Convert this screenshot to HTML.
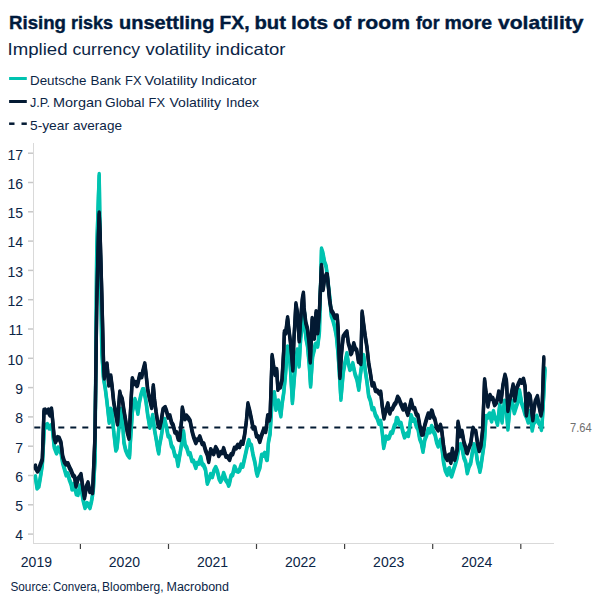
<!DOCTYPE html><html><head><meta charset="utf-8"><style>html,body{margin:0;padding:0;background:#fff;}svg{display:block;}</style></head><body>
<svg width="605" height="605" viewBox="0 0 605 605">
<rect width="605" height="605" fill="#fff"/>
<text x="9.00" y="29.4" font-family="'Liberation Sans', sans-serif" font-size="19" font-weight="bold" fill="#001a3d" textLength="57.00" lengthAdjust="spacingAndGlyphs" stroke="#001a3d" stroke-width="0.4">Rising</text>
<text x="71.00" y="29.4" font-family="'Liberation Sans', sans-serif" font-size="19" font-weight="bold" fill="#001a3d" textLength="42.00" lengthAdjust="spacingAndGlyphs" stroke="#001a3d" stroke-width="0.4">risks</text>
<text x="119.00" y="29.4" font-family="'Liberation Sans', sans-serif" font-size="19" font-weight="bold" fill="#001a3d" textLength="95.50" lengthAdjust="spacingAndGlyphs" stroke="#001a3d" stroke-width="0.4">unsettling</text>
<text x="219.50" y="29.4" font-family="'Liberation Sans', sans-serif" font-size="19" font-weight="bold" fill="#001a3d" textLength="30.00" lengthAdjust="spacingAndGlyphs" stroke="#001a3d" stroke-width="0.4">FX,</text>
<text x="254.50" y="29.4" font-family="'Liberation Sans', sans-serif" font-size="19" font-weight="bold" fill="#001a3d" textLength="31.50" lengthAdjust="spacingAndGlyphs" stroke="#001a3d" stroke-width="0.4">but</text>
<text x="291.00" y="29.4" font-family="'Liberation Sans', sans-serif" font-size="19" font-weight="bold" fill="#001a3d" textLength="37.00" lengthAdjust="spacingAndGlyphs" stroke="#001a3d" stroke-width="0.4">lots</text>
<text x="333.00" y="29.4" font-family="'Liberation Sans', sans-serif" font-size="19" font-weight="bold" fill="#001a3d" textLength="18.00" lengthAdjust="spacingAndGlyphs" stroke="#001a3d" stroke-width="0.4">of</text>
<text x="357.00" y="29.4" font-family="'Liberation Sans', sans-serif" font-size="19" font-weight="bold" fill="#001a3d" textLength="53.00" lengthAdjust="spacingAndGlyphs" stroke="#001a3d" stroke-width="0.4">room</text>
<text x="416.00" y="29.4" font-family="'Liberation Sans', sans-serif" font-size="19" font-weight="bold" fill="#001a3d" textLength="23.50" lengthAdjust="spacingAndGlyphs" stroke="#001a3d" stroke-width="0.4">for</text>
<text x="444.50" y="29.4" font-family="'Liberation Sans', sans-serif" font-size="19" font-weight="bold" fill="#001a3d" textLength="47.50" lengthAdjust="spacingAndGlyphs" stroke="#001a3d" stroke-width="0.4">more</text>
<text x="498.00" y="29.4" font-family="'Liberation Sans', sans-serif" font-size="19" font-weight="bold" fill="#001a3d" textLength="85.50" lengthAdjust="spacingAndGlyphs" stroke="#001a3d" stroke-width="0.4">volatility</text>
<text x="7.50" y="54.6" font-family="'Liberation Sans', sans-serif" font-size="16.5" font-weight="normal" fill="#0b2546" textLength="60.00" lengthAdjust="spacingAndGlyphs">Implied</text>
<text x="72.50" y="54.6" font-family="'Liberation Sans', sans-serif" font-size="16.5" font-weight="normal" fill="#0b2546" textLength="67.50" lengthAdjust="spacingAndGlyphs">currency</text>
<text x="145.50" y="54.6" font-family="'Liberation Sans', sans-serif" font-size="16.5" font-weight="normal" fill="#0b2546" textLength="65.50" lengthAdjust="spacingAndGlyphs">volatility</text>
<text x="215.50" y="54.6" font-family="'Liberation Sans', sans-serif" font-size="16.5" font-weight="normal" fill="#0b2546" textLength="70.00" lengthAdjust="spacingAndGlyphs">indicator</text>
<text x="30.00" y="84.8" font-family="'Liberation Sans', sans-serif" font-size="13.5" font-weight="normal" fill="#0b2546" textLength="56.50" lengthAdjust="spacingAndGlyphs">Deutsche</text>
<text x="90.50" y="84.8" font-family="'Liberation Sans', sans-serif" font-size="13.5" font-weight="normal" fill="#0b2546" textLength="30.50" lengthAdjust="spacingAndGlyphs">Bank</text>
<text x="125.00" y="84.8" font-family="'Liberation Sans', sans-serif" font-size="13.5" font-weight="normal" fill="#0b2546" textLength="16.50" lengthAdjust="spacingAndGlyphs">FX</text>
<text x="144.50" y="84.8" font-family="'Liberation Sans', sans-serif" font-size="13.5" font-weight="normal" fill="#0b2546" textLength="53.00" lengthAdjust="spacingAndGlyphs">Volatility</text>
<text x="201.00" y="84.8" font-family="'Liberation Sans', sans-serif" font-size="13.5" font-weight="normal" fill="#0b2546" textLength="55.50" lengthAdjust="spacingAndGlyphs">Indicator</text>
<text x="30.00" y="107.1" font-family="'Liberation Sans', sans-serif" font-size="13.5" font-weight="normal" fill="#0b2546" textLength="20.00" lengthAdjust="spacingAndGlyphs">J.P.</text>
<text x="53.00" y="107.1" font-family="'Liberation Sans', sans-serif" font-size="13.5" font-weight="normal" fill="#0b2546" textLength="49.00" lengthAdjust="spacingAndGlyphs">Morgan</text>
<text x="105.00" y="107.1" font-family="'Liberation Sans', sans-serif" font-size="13.5" font-weight="normal" fill="#0b2546" textLength="39.50" lengthAdjust="spacingAndGlyphs">Global</text>
<text x="148.50" y="107.1" font-family="'Liberation Sans', sans-serif" font-size="13.5" font-weight="normal" fill="#0b2546" textLength="16.50" lengthAdjust="spacingAndGlyphs">FX</text>
<text x="169.50" y="107.1" font-family="'Liberation Sans', sans-serif" font-size="13.5" font-weight="normal" fill="#0b2546" textLength="51.50" lengthAdjust="spacingAndGlyphs">Volatility</text>
<text x="226.00" y="107.1" font-family="'Liberation Sans', sans-serif" font-size="13.5" font-weight="normal" fill="#0b2546" textLength="33.00" lengthAdjust="spacingAndGlyphs">Index</text>
<text x="30.00" y="129.8" font-family="'Liberation Sans', sans-serif" font-size="13.5" font-weight="normal" fill="#0b2546" textLength="39.00" lengthAdjust="spacingAndGlyphs">5-year</text>
<text x="73.00" y="129.8" font-family="'Liberation Sans', sans-serif" font-size="13.5" font-weight="normal" fill="#0b2546" textLength="49.00" lengthAdjust="spacingAndGlyphs">average</text>
<text x="10.50" y="590.8" font-family="'Liberation Sans', sans-serif" font-size="12" font-weight="normal" fill="#0b2546" textLength="40.50" lengthAdjust="spacingAndGlyphs">Source:</text>
<text x="53.00" y="590.8" font-family="'Liberation Sans', sans-serif" font-size="12" font-weight="normal" fill="#0b2546" textLength="47.00" lengthAdjust="spacingAndGlyphs">Convera,</text>
<text x="102.00" y="590.8" font-family="'Liberation Sans', sans-serif" font-size="12" font-weight="normal" fill="#0b2546" textLength="61.50" lengthAdjust="spacingAndGlyphs">Bloomberg,</text>
<text x="166.50" y="590.8" font-family="'Liberation Sans', sans-serif" font-size="12" font-weight="normal" fill="#0b2546" textLength="62.50" lengthAdjust="spacingAndGlyphs">Macrobond</text>
<line x1="9.1" y1="78.5" x2="26.8" y2="78.5" stroke="#00c3b0" stroke-width="3"/>
<line x1="9.1" y1="101.5" x2="26.8" y2="101.5" stroke="#031a33" stroke-width="3"/>
<line x1="9.1" y1="123.7" x2="14.5" y2="123.7" stroke="#031a33" stroke-width="2.5"/>
<line x1="21.5" y1="123.7" x2="26.8" y2="123.7" stroke="#031a33" stroke-width="2.5"/>
<line x1="33.5" y1="143" x2="33.5" y2="543.5" stroke="#d9d9d9" stroke-width="1"/>
<line x1="33" y1="543.5" x2="554" y2="543.5" stroke="#d9d9d9" stroke-width="1"/>
<line x1="28" y1="153.2" x2="33" y2="153.2" stroke="#c8c8c8" stroke-width="1.5"/>
<text x="23" y="159.5" font-family="'Liberation Sans', sans-serif" font-size="14" font-weight="normal" fill="#0b2546" text-anchor="end">17</text>
<line x1="28" y1="182.5" x2="33" y2="182.5" stroke="#c8c8c8" stroke-width="1.5"/>
<text x="23" y="188.8" font-family="'Liberation Sans', sans-serif" font-size="14" font-weight="normal" fill="#0b2546" text-anchor="end">16</text>
<line x1="28" y1="211.8" x2="33" y2="211.8" stroke="#c8c8c8" stroke-width="1.5"/>
<text x="23" y="218.1" font-family="'Liberation Sans', sans-serif" font-size="14" font-weight="normal" fill="#0b2546" text-anchor="end">15</text>
<line x1="28" y1="241.1" x2="33" y2="241.1" stroke="#c8c8c8" stroke-width="1.5"/>
<text x="23" y="247.4" font-family="'Liberation Sans', sans-serif" font-size="14" font-weight="normal" fill="#0b2546" text-anchor="end">14</text>
<line x1="28" y1="270.4" x2="33" y2="270.4" stroke="#c8c8c8" stroke-width="1.5"/>
<text x="23" y="276.7" font-family="'Liberation Sans', sans-serif" font-size="14" font-weight="normal" fill="#0b2546" text-anchor="end">13</text>
<line x1="28" y1="299.7" x2="33" y2="299.7" stroke="#c8c8c8" stroke-width="1.5"/>
<text x="23" y="306.0" font-family="'Liberation Sans', sans-serif" font-size="14" font-weight="normal" fill="#0b2546" text-anchor="end">12</text>
<line x1="28" y1="329.0" x2="33" y2="329.0" stroke="#c8c8c8" stroke-width="1.5"/>
<text x="23" y="335.3" font-family="'Liberation Sans', sans-serif" font-size="14" font-weight="normal" fill="#0b2546" text-anchor="end">11</text>
<line x1="28" y1="358.3" x2="33" y2="358.3" stroke="#c8c8c8" stroke-width="1.5"/>
<text x="23" y="364.6" font-family="'Liberation Sans', sans-serif" font-size="14" font-weight="normal" fill="#0b2546" text-anchor="end">10</text>
<line x1="28" y1="387.6" x2="33" y2="387.6" stroke="#c8c8c8" stroke-width="1.5"/>
<text x="23" y="393.9" font-family="'Liberation Sans', sans-serif" font-size="14" font-weight="normal" fill="#0b2546" text-anchor="end">9</text>
<line x1="28" y1="416.9" x2="33" y2="416.9" stroke="#c8c8c8" stroke-width="1.5"/>
<text x="23" y="423.2" font-family="'Liberation Sans', sans-serif" font-size="14" font-weight="normal" fill="#0b2546" text-anchor="end">8</text>
<line x1="28" y1="446.2" x2="33" y2="446.2" stroke="#c8c8c8" stroke-width="1.5"/>
<text x="23" y="452.5" font-family="'Liberation Sans', sans-serif" font-size="14" font-weight="normal" fill="#0b2546" text-anchor="end">7</text>
<line x1="28" y1="475.5" x2="33" y2="475.5" stroke="#c8c8c8" stroke-width="1.5"/>
<text x="23" y="481.8" font-family="'Liberation Sans', sans-serif" font-size="14" font-weight="normal" fill="#0b2546" text-anchor="end">6</text>
<line x1="28" y1="504.8" x2="33" y2="504.8" stroke="#c8c8c8" stroke-width="1.5"/>
<text x="23" y="511.1" font-family="'Liberation Sans', sans-serif" font-size="14" font-weight="normal" fill="#0b2546" text-anchor="end">5</text>
<line x1="28" y1="534.1" x2="33" y2="534.1" stroke="#c8c8c8" stroke-width="1.5"/>
<text x="23" y="540.4" font-family="'Liberation Sans', sans-serif" font-size="14" font-weight="normal" fill="#0b2546" text-anchor="end">4</text>
<line x1="80.4" y1="544" x2="80.4" y2="549" stroke="#404040" stroke-width="1.2"/>
<line x1="168.5" y1="544" x2="168.5" y2="549" stroke="#404040" stroke-width="1.2"/>
<line x1="256.5" y1="544" x2="256.5" y2="549" stroke="#404040" stroke-width="1.2"/>
<line x1="344.6" y1="544" x2="344.6" y2="549" stroke="#404040" stroke-width="1.2"/>
<line x1="432.7" y1="544" x2="432.7" y2="549" stroke="#404040" stroke-width="1.2"/>
<line x1="520.8" y1="544" x2="520.8" y2="549" stroke="#404040" stroke-width="1.2"/>
<text x="36.4" y="566.8" font-family="'Liberation Sans', sans-serif" font-size="14" font-weight="normal" fill="#0b2546" text-anchor="middle">2019</text>
<text x="124.4" y="566.8" font-family="'Liberation Sans', sans-serif" font-size="14" font-weight="normal" fill="#0b2546" text-anchor="middle">2020</text>
<text x="212.5" y="566.8" font-family="'Liberation Sans', sans-serif" font-size="14" font-weight="normal" fill="#0b2546" text-anchor="middle">2021</text>
<text x="300.6" y="566.8" font-family="'Liberation Sans', sans-serif" font-size="14" font-weight="normal" fill="#0b2546" text-anchor="middle">2022</text>
<text x="388.7" y="566.8" font-family="'Liberation Sans', sans-serif" font-size="14" font-weight="normal" fill="#0b2546" text-anchor="middle">2023</text>
<text x="476.8" y="566.8" font-family="'Liberation Sans', sans-serif" font-size="14" font-weight="normal" fill="#0b2546" text-anchor="middle">2024</text>
<text x="570" y="432" font-family="'Liberation Sans', sans-serif" font-size="12" font-weight="normal" fill="#707070" text-anchor="start" textLength="21.6" lengthAdjust="spacingAndGlyphs">7.64</text>
<line x1="34.3" y1="427.4" x2="544.5" y2="427.4" stroke="#031a33" stroke-width="2" stroke-dasharray="6 6"/>
<path transform="translate(0,-1.0)" d="M35.5,476.7 L35.5,477.5 L37.0,488.0 L38.9,486.1 L40.6,476.0 L42.3,465.3 L44.5,425.0 L45.7,427.0 L47.4,424.6 L49.1,428.1 L50.0,428.0 L50.8,426.2 L52.0,425.0 L54.2,446.8 L56.5,453.0 L58.0,448.0 L59.3,450.5 L61.0,452.4 L62.7,463.1 L64.4,468.7 L66.1,474.9 L67.8,473.7 L69.5,480.0 L71.2,484.4 L72.0,489.0 L72.9,488.9 L74.0,484.5 L74.6,485.8 L76.3,493.9 L78.0,494.4 L80.0,486.0 L81.4,489.8 L83.1,500.0 L85.0,507.6 L87.0,503.5 L88.2,504.6 L90.0,507.6 L91.6,500.8 L93.3,490.4 L95.0,460.7 L96.7,251.7 L98.4,197.3 L99.2,174.5 L100.1,237.8 L101.8,352.0 L103.5,377.9 L105.2,388.0 L106.9,401.2 L109.2,422.3 L110.6,409.1 L112.0,411.4 L113.7,431.4 L115.8,450.1 L117.1,447.6 L118.8,428.7 L121.1,409.1 L122.2,416.0 L123.9,442.3 L125.6,449.9 L127.3,453.9 L129.5,457.0 L130.7,436.8 L132.4,411.3 L134.1,403.6 L134.9,399.5 L135.8,402.5 L137.9,413.4 L139.2,403.2 L140.9,395.1 L142.6,389.7 L143.8,389.6 L146.0,401.5 L147.7,414.8 L149.8,427.3 L151.1,423.3 L152.7,415.4 L154.5,429.8 L156.2,439.2 L157.9,449.4 L158.7,453.0 L159.6,444.9 L161.3,436.2 L163.0,424.5 L164.6,419.4 L166.4,426.9 L168.1,435.9 L169.8,437.1 L171.5,445.8 L173.2,448.4 L174.9,455.5 L176.6,456.6 L178.0,465.5 L180.0,453.7 L181.7,443.5 L183.5,431.7 L185.1,445.3 L186.8,447.9 L188.5,453.7 L190.2,453.8 L191.9,460.6 L193.6,461.2 L195.8,467.5 L197.0,463.5 L198.7,463.4 L200.8,457.5 L202.1,464.1 L203.8,465.6 L205.5,469.7 L207.3,483.3 L208.9,479.4 L210.6,474.5 L212.3,476.7 L214.0,470.7 L215.7,467.5 L217.4,471.4 L219.1,478.6 L220.6,481.3 L222.5,477.8 L223.6,473.4 L225.9,480.1 L227.6,482.4 L228.6,485.3 L229.3,483.8 L231.0,476.0 L232.7,474.6 L234.4,467.0 L235.0,467.3 L236.1,470.5 L238.0,471.3 L239.5,470.2 L241.2,465.1 L242.9,466.2 L244.6,458.4 L246.3,450.6 L248.0,443.1 L248.9,440.5 L249.7,444.1 L251.4,445.6 L253.1,455.1 L254.8,461.8 L256.5,472.2 L257.4,475.2 L258.2,471.9 L259.9,467.5 L261.6,455.3 L263.3,455.2 L264.7,453.4 L266.7,459.6 L267.3,459.4 L268.4,442.5 L270.1,433.6 L271.8,405.5 L273.5,395.5 L274.3,392.7 L275.2,400.9 L275.9,409.3 L276.9,407.2 L278.4,401.0 L280.3,413.1 L280.9,415.9 L282.0,404.6 L283.7,393.0 L285.4,375.6 L287.5,347.0 L288.8,347.9 L290.5,369.7 L292.4,402.6 L293.9,383.6 L295.6,362.3 L297.3,350.0 L299.1,366.0 L300.7,337.5 L302.4,327.1 L304.5,313.0 L305.8,337.5 L307.5,345.9 L309.2,364.2 L310.6,386.1 L312.6,356.3 L314.3,349.6 L315.1,345.0 L316.0,344.0 L317.7,346.1 L319.4,332.2 L321.5,249.0 L322.8,252.7 L324.5,262.0 L326.2,266.7 L327.9,281.3 L329.6,295.9 L331.3,315.5 L333.0,320.5 L334.7,327.0 L336.4,336.2 L338.1,354.0 L339.8,380.5 L340.9,399.3 L343.2,372.8 L344.9,363.4 L346.9,353.7 L348.3,362.7 L349.8,369.5 L351.7,367.6 L352.8,363.6 L355.1,374.3 L356.8,378.8 L358.8,389.4 L360.2,375.9 L361.9,363.7 L363.7,355.6 L365.3,371.1 L367.0,382.1 L368.7,396.0 L370.4,400.5 L372.1,408.8 L373.8,408.8 L375.5,415.2 L377.2,418.0 L378.9,423.3 L380.6,421.3 L382.3,433.1 L383.7,447.5 L386.0,436.9 L387.9,438.2 L389.1,437.7 L390.8,432.9 L392.5,432.3 L394.2,426.4 L395.9,423.2 L396.5,418.4 L397.6,418.7 L399.3,423.9 L401.0,423.4 L402.7,431.0 L404.5,436.9 L406.5,434.2 L407.8,433.5 L408.4,435.6 L409.5,428.2 L411.1,415.7 L412.9,420.3 L414.6,420.0 L416.3,426.0 L418.0,428.8 L419.7,438.7 L421.4,442.9 L423.0,451.4 L424.8,439.7 L426.5,435.4 L428.2,429.6 L429.9,431.9 L431.6,426.4 L432.2,427.6 L433.3,431.3 L435.0,434.4 L436.7,442.3 L438.2,446.1 L440.5,440.2 L441.8,446.3 L443.5,461.8 L445.2,470.0 L447.2,474.4 L448.6,469.2 L449.4,468.5 L450.3,473.2 L451.6,475.9 L453.7,469.2 L455.4,464.0 L457.1,457.9 L458.8,447.1 L460.6,444.6 L462.2,448.7 L463.9,457.7 L465.6,461.8 L467.3,472.9 L469.0,466.6 L470.7,463.0 L472.4,452.3 L474.0,444.6 L475.8,450.0 L477.5,461.7 L479.2,467.5 L479.9,471.4 L480.9,466.6 L482.6,454.4 L484.3,443.0 L486.0,416.4 L487.7,417.2 L489.4,413.9 L490.0,414.0 L491.1,419.5 L491.7,421.0 L492.8,413.6 L493.5,411.6 L494.5,416.4 L496.2,419.8 L497.5,424.3 L499.8,404.7 L501.3,417.9 L502.1,422.0 L503.0,413.2 L504.5,401.2 L506.4,410.3 L507.9,429.0 L509.8,408.6 L512.0,401.2 L513.2,406.6 L514.3,412.8 L516.6,405.5 L518.3,400.7 L519.5,390.8 L521.7,403.3 L523.4,408.1 L525.1,414.3 L526.8,417.4 L528.2,422.0 L529.9,411.6 L532.2,430.1 L533.6,423.0 L535.3,421.2 L536.8,416.2 L538.7,422.8 L540.4,424.9 L541.4,429.5 L542.1,424.4 L543.8,393.7 L545.0,369.0" fill="none" stroke="#00c3b0" stroke-width="3.4" stroke-linejoin="round" stroke-linecap="round"/>
<path transform="translate(0,1.0)" d="M35.5,476.7 L35.5,477.5 L37.0,488.0 L38.9,486.1 L40.6,476.0 L42.3,465.3 L44.5,425.0 L45.7,427.0 L47.4,424.6 L49.1,428.1 L50.0,428.0 L50.8,426.2 L52.0,425.0 L54.2,446.8 L56.5,453.0 L58.0,448.0 L59.3,450.5 L61.0,452.4 L62.7,463.1 L64.4,468.7 L66.1,474.9 L67.8,473.7 L69.5,480.0 L71.2,484.4 L72.0,489.0 L72.9,488.9 L74.0,484.5 L74.6,485.8 L76.3,493.9 L78.0,494.4 L80.0,486.0 L81.4,489.8 L83.1,500.0 L85.0,507.6 L87.0,503.5 L88.2,504.6 L90.0,507.6 L91.6,500.8 L93.3,490.4 L95.0,460.7 L96.7,251.7 L98.4,197.3 L99.2,174.5 L100.1,237.8 L101.8,352.0 L103.5,377.9 L105.2,388.0 L106.9,401.2 L109.2,422.3 L110.6,409.1 L112.0,411.4 L113.7,431.4 L115.8,450.1 L117.1,447.6 L118.8,428.7 L121.1,409.1 L122.2,416.0 L123.9,442.3 L125.6,449.9 L127.3,453.9 L129.5,457.0 L130.7,436.8 L132.4,411.3 L134.1,403.6 L134.9,399.5 L135.8,402.5 L137.9,413.4 L139.2,403.2 L140.9,395.1 L142.6,389.7 L143.8,389.6 L146.0,401.5 L147.7,414.8 L149.8,427.3 L151.1,423.3 L152.7,415.4 L154.5,429.8 L156.2,439.2 L157.9,449.4 L158.7,453.0 L159.6,444.9 L161.3,436.2 L163.0,424.5 L164.6,419.4 L166.4,426.9 L168.1,435.9 L169.8,437.1 L171.5,445.8 L173.2,448.4 L174.9,455.5 L176.6,456.6 L178.0,465.5 L180.0,453.7 L181.7,443.5 L183.5,431.7 L185.1,445.3 L186.8,447.9 L188.5,453.7 L190.2,453.8 L191.9,460.6 L193.6,461.2 L195.8,467.5 L197.0,463.5 L198.7,463.4 L200.8,457.5 L202.1,464.1 L203.8,465.6 L205.5,469.7 L207.3,483.3 L208.9,479.4 L210.6,474.5 L212.3,476.7 L214.0,470.7 L215.7,467.5 L217.4,471.4 L219.1,478.6 L220.6,481.3 L222.5,477.8 L223.6,473.4 L225.9,480.1 L227.6,482.4 L228.6,485.3 L229.3,483.8 L231.0,476.0 L232.7,474.6 L234.4,467.0 L235.0,467.3 L236.1,470.5 L238.0,471.3 L239.5,470.2 L241.2,465.1 L242.9,466.2 L244.6,458.4 L246.3,450.6 L248.0,443.1 L248.9,440.5 L249.7,444.1 L251.4,445.6 L253.1,455.1 L254.8,461.8 L256.5,472.2 L257.4,475.2 L258.2,471.9 L259.9,467.5 L261.6,455.3 L263.3,455.2 L264.7,453.4 L266.7,459.6 L267.3,459.4 L268.4,442.5 L270.1,433.6 L271.8,405.5 L273.5,395.5 L274.3,392.7 L275.2,400.9 L275.9,409.3 L276.9,407.2 L278.4,401.0 L280.3,413.1 L280.9,415.9 L282.0,404.6 L283.7,393.0 L285.4,375.6 L287.5,347.0 L288.8,347.9 L290.5,369.7 L292.4,402.6 L293.9,383.6 L295.6,362.3 L297.3,350.0 L299.1,366.0 L300.7,337.5 L302.4,327.1 L304.5,313.0 L305.8,337.5 L307.5,345.9 L309.2,364.2 L310.6,386.1 L312.6,356.3 L314.3,349.6 L315.1,345.0 L316.0,344.0 L317.7,346.1 L319.4,332.2 L321.5,249.0 L322.8,252.7 L324.5,262.0 L326.2,266.7 L327.9,281.3 L329.6,295.9 L331.3,315.5 L333.0,320.5 L334.7,327.0 L336.4,336.2 L338.1,354.0 L339.8,380.5 L340.9,399.3 L343.2,372.8 L344.9,363.4 L346.9,353.7 L348.3,362.7 L349.8,369.5 L351.7,367.6 L352.8,363.6 L355.1,374.3 L356.8,378.8 L358.8,389.4 L360.2,375.9 L361.9,363.7 L363.7,355.6 L365.3,371.1 L367.0,382.1 L368.7,396.0 L370.4,400.5 L372.1,408.8 L373.8,408.8 L375.5,415.2 L377.2,418.0 L378.9,423.3 L380.6,421.3 L382.3,433.1 L383.7,447.5 L386.0,436.9 L387.9,438.2 L389.1,437.7 L390.8,432.9 L392.5,432.3 L394.2,426.4 L395.9,423.2 L396.5,418.4 L397.6,418.7 L399.3,423.9 L401.0,423.4 L402.7,431.0 L404.5,436.9 L406.5,434.2 L407.8,433.5 L408.4,435.6 L409.5,428.2 L411.1,415.7 L412.9,420.3 L414.6,420.0 L416.3,426.0 L418.0,428.8 L419.7,438.7 L421.4,442.9 L423.0,451.4 L424.8,439.7 L426.5,435.4 L428.2,429.6 L429.9,431.9 L431.6,426.4 L432.2,427.6 L433.3,431.3 L435.0,434.4 L436.7,442.3 L438.2,446.1 L440.5,440.2 L441.8,446.3 L443.5,461.8 L445.2,470.0 L447.2,474.4 L448.6,469.2 L449.4,468.5 L450.3,473.2 L451.6,475.9 L453.7,469.2 L455.4,464.0 L457.1,457.9 L458.8,447.1 L460.6,444.6 L462.2,448.7 L463.9,457.7 L465.6,461.8 L467.3,472.9 L469.0,466.6 L470.7,463.0 L472.4,452.3 L474.0,444.6 L475.8,450.0 L477.5,461.7 L479.2,467.5 L479.9,471.4 L480.9,466.6 L482.6,454.4 L484.3,443.0 L486.0,416.4 L487.7,417.2 L489.4,413.9 L490.0,414.0 L491.1,419.5 L491.7,421.0 L492.8,413.6 L493.5,411.6 L494.5,416.4 L496.2,419.8 L497.5,424.3 L499.8,404.7 L501.3,417.9 L502.1,422.0 L503.0,413.2 L504.5,401.2 L506.4,410.3 L507.9,429.0 L509.8,408.6 L512.0,401.2 L513.2,406.6 L514.3,412.8 L516.6,405.5 L518.3,400.7 L519.5,390.8 L521.7,403.3 L523.4,408.1 L525.1,414.3 L526.8,417.4 L528.2,422.0 L529.9,411.6 L532.2,430.1 L533.6,423.0 L535.3,421.2 L536.8,416.2 L538.7,422.8 L540.4,424.9 L541.4,429.5 L542.1,424.4 L543.8,393.7 L545.0,369.0" fill="none" stroke="#00c3b0" stroke-width="3.4" stroke-linejoin="round" stroke-linecap="round"/>
<path transform="translate(0,-1.0)" d="M35.5,466.0 L35.5,467.9 L37.5,471.0 L38.9,468.9 L40.6,464.1 L42.3,459.7 L44.0,410.4 L45.0,410.0 L45.7,412.1 L47.0,411.6 L48.5,410.0 L49.1,413.4 L50.0,415.0 L50.8,410.4 L51.5,409.0 L52.5,418.7 L54.2,437.7 L55.5,441.7 L57.6,437.5 L59.0,438.0 L61.0,442.7 L62.7,456.5 L64.4,461.8 L66.0,464.0 L68.0,463.8 L69.5,467.6 L71.2,470.8 L72.9,475.3 L74.6,476.9 L76.0,486.0 L78.0,478.8 L79.7,476.8 L81.0,474.5 L83.1,489.4 L84.5,497.7 L86.5,486.3 L88.0,482.8 L89.9,491.6 L91.6,489.7 L92.5,492.7 L93.3,475.8 L95.0,435.6 L96.7,307.3 L98.4,236.0 L99.2,213.0 L100.1,233.3 L101.8,293.8 L103.5,361.8 L104.3,378.0 L105.2,371.6 L107.0,364.0 L108.8,385.0 L110.8,376.0 L112.0,385.5 L113.7,402.0 L115.4,411.6 L117.5,424.0 L118.8,404.6 L119.8,392.0 L120.5,395.6 L122.2,399.0 L123.9,410.2 L125.6,420.4 L127.3,432.0 L129.0,438.2 L130.7,407.2 L132.3,378.7 L134.1,383.7 L135.8,382.5 L136.9,385.6 L137.5,385.0 L139.8,374.7 L140.9,376.7 L141.8,376.7 L142.6,372.2 L144.8,363.8 L146.0,373.7 L147.7,389.5 L149.4,397.9 L151.7,407.5 L153.3,385.6 L154.5,399.5 L156.2,412.8 L157.9,423.9 L159.7,427.3 L161.3,420.3 L163.0,409.5 L165.2,407.5 L166.4,410.6 L168.1,417.2 L169.8,415.7 L171.5,422.5 L173.2,425.4 L174.9,432.1 L176.6,432.6 L178.3,439.2 L179.5,439.5 L181.7,419.7 L182.3,408.0 L183.4,412.8 L184.3,417.9 L185.1,418.6 L186.3,415.9 L188.5,418.4 L190.2,421.2 L191.9,430.5 L193.6,436.9 L195.8,442.7 L197.0,440.0 L198.7,439.2 L199.8,436.7 L202.1,443.5 L203.8,444.0 L205.5,450.3 L207.2,454.2 L208.7,461.5 L210.7,449.6 L212.3,452.4 L213.7,453.6 L215.7,447.6 L217.4,450.5 L218.7,455.6 L220.8,452.5 L222.5,452.5 L223.6,448.6 L225.9,456.3 L227.6,456.6 L229.6,459.5 L231.0,454.7 L232.7,453.7 L234.4,448.2 L236.1,448.1 L237.8,445.2 L239.5,446.6 L241.2,442.3 L242.9,443.3 L244.6,434.9 L246.3,421.9 L247.9,403.8 L249.7,410.9 L251.4,419.1 L253.1,428.1 L254.8,427.9 L256.5,435.9 L258.2,436.7 L259.8,441.5 L261.6,435.3 L263.7,429.6 L265.0,429.9 L265.7,431.6 L266.7,424.4 L267.7,415.7 L268.4,416.4 L269.3,420.0 L270.1,416.0 L272.1,355.5 L273.5,365.3 L275.1,374.5 L276.7,369.6 L277.9,389.4 L278.6,387.5 L280.3,387.2 L282.0,379.8 L283.7,350.7 L284.4,331.6 L285.7,333.0 L287.6,317.7 L288.8,329.0 L290.5,342.5 L292.2,361.7 L292.8,370.0 L293.9,339.9 L295.9,303.8 L297.3,312.1 L299.2,340.8 L300.7,318.3 L302.4,298.5 L303.4,293.2 L304.1,308.4 L305.8,322.8 L307.5,329.0 L309.2,343.4 L310.3,362.0 L312.2,318.4 L314.4,338.2 L316.1,311.7 L317.7,332.9 L319.4,311.7 L321.5,265.5 L323.1,289.5 L324.5,279.2 L326.2,274.8 L327.3,274.7 L329.6,300.0 L331.3,310.5 L333.0,313.1 L334.7,317.2 L335.5,317.6 L336.4,315.9 L337.2,316.0 L338.1,328.4 L339.9,377.5 L341.5,353.4 L343.2,336.7 L344.9,334.2 L346.9,331.8 L348.3,342.9 L350.0,348.6 L350.8,353.7 L351.7,352.6 L353.8,343.7 L355.1,348.4 L356.8,350.4 L358.5,361.5 L360.2,362.3 L360.8,363.6 L362.1,312.0 L363.6,324.0 L365.3,336.7 L367.0,347.4 L368.7,363.3 L370.4,373.3 L372.1,385.1 L373.8,383.7 L375.5,390.5 L377.2,390.8 L379.2,393.3 L380.7,392.0 L382.3,406.6 L384.0,418.0 L385.7,411.2 L387.9,403.8 L389.1,411.2 L389.9,413.1 L390.8,409.8 L392.5,408.6 L394.2,404.9 L395.9,402.7 L397.6,397.2 L399.3,399.8 L401.0,404.3 L403.1,409.1 L404.4,405.5 L405.1,405.1 L406.1,409.7 L407.8,414.4 L409.5,407.9 L411.1,400.5 L412.9,407.9 L414.6,408.3 L416.3,414.0 L418.0,415.7 L419.7,425.4 L421.7,434.2 L423.1,434.1 L424.8,425.2 L426.5,419.3 L428.2,413.9 L429.9,417.2 L431.6,411.0 L432.2,411.7 L433.3,416.2 L435.0,419.6 L436.7,427.8 L438.2,430.0 L440.5,425.3 L441.8,431.0 L443.5,445.3 L445.2,455.7 L447.2,459.5 L448.6,455.7 L449.4,455.1 L450.3,460.9 L450.9,462.5 L452.4,449.1 L453.7,457.2 L454.6,459.5 L455.4,456.7 L457.1,449.9 L458.0,422.3 L458.8,426.5 L459.8,435.7 L460.5,435.3 L462.0,431.3 L463.9,442.4 L465.6,447.5 L466.5,452.1 L467.3,452.8 L469.0,447.7 L470.7,443.4 L472.4,431.2 L473.2,428.3 L474.1,430.7 L475.8,431.4 L477.5,443.1 L479.2,450.6 L480.9,445.7 L482.6,430.5 L484.6,379.7 L486.0,392.6 L487.9,406.1 L489.4,398.0 L490.0,395.4 L491.1,398.0 L492.8,398.4 L494.6,404.7 L496.2,402.7 L497.9,397.5 L498.7,392.0 L499.6,394.0 L501.0,401.2 L503.0,384.8 L505.0,375.2 L506.4,380.6 L507.9,410.5 L509.8,399.3 L511.5,393.4 L513.1,385.0 L514.9,400.0 L516.6,388.5 L518.3,384.3 L520.0,380.6 L521.7,382.3 L523.5,379.2 L525.1,386.3 L526.4,415.0 L528.7,394.3 L530.2,396.3 L531.9,412.3 L532.8,419.7 L533.6,412.2 L535.3,401.1 L537.4,396.6 L538.7,404.3 L540.9,415.0 L542.1,409.0 L543.8,357.8 L543.8,359.0" fill="none" stroke="#031a33" stroke-width="3.4" stroke-linejoin="round" stroke-linecap="round"/>
<path transform="translate(0,1.0)" d="M35.5,466.0 L35.5,467.9 L37.5,471.0 L38.9,468.9 L40.6,464.1 L42.3,459.7 L44.0,410.4 L45.0,410.0 L45.7,412.1 L47.0,411.6 L48.5,410.0 L49.1,413.4 L50.0,415.0 L50.8,410.4 L51.5,409.0 L52.5,418.7 L54.2,437.7 L55.5,441.7 L57.6,437.5 L59.0,438.0 L61.0,442.7 L62.7,456.5 L64.4,461.8 L66.0,464.0 L68.0,463.8 L69.5,467.6 L71.2,470.8 L72.9,475.3 L74.6,476.9 L76.0,486.0 L78.0,478.8 L79.7,476.8 L81.0,474.5 L83.1,489.4 L84.5,497.7 L86.5,486.3 L88.0,482.8 L89.9,491.6 L91.6,489.7 L92.5,492.7 L93.3,475.8 L95.0,435.6 L96.7,307.3 L98.4,236.0 L99.2,213.0 L100.1,233.3 L101.8,293.8 L103.5,361.8 L104.3,378.0 L105.2,371.6 L107.0,364.0 L108.8,385.0 L110.8,376.0 L112.0,385.5 L113.7,402.0 L115.4,411.6 L117.5,424.0 L118.8,404.6 L119.8,392.0 L120.5,395.6 L122.2,399.0 L123.9,410.2 L125.6,420.4 L127.3,432.0 L129.0,438.2 L130.7,407.2 L132.3,378.7 L134.1,383.7 L135.8,382.5 L136.9,385.6 L137.5,385.0 L139.8,374.7 L140.9,376.7 L141.8,376.7 L142.6,372.2 L144.8,363.8 L146.0,373.7 L147.7,389.5 L149.4,397.9 L151.7,407.5 L153.3,385.6 L154.5,399.5 L156.2,412.8 L157.9,423.9 L159.7,427.3 L161.3,420.3 L163.0,409.5 L165.2,407.5 L166.4,410.6 L168.1,417.2 L169.8,415.7 L171.5,422.5 L173.2,425.4 L174.9,432.1 L176.6,432.6 L178.3,439.2 L179.5,439.5 L181.7,419.7 L182.3,408.0 L183.4,412.8 L184.3,417.9 L185.1,418.6 L186.3,415.9 L188.5,418.4 L190.2,421.2 L191.9,430.5 L193.6,436.9 L195.8,442.7 L197.0,440.0 L198.7,439.2 L199.8,436.7 L202.1,443.5 L203.8,444.0 L205.5,450.3 L207.2,454.2 L208.7,461.5 L210.7,449.6 L212.3,452.4 L213.7,453.6 L215.7,447.6 L217.4,450.5 L218.7,455.6 L220.8,452.5 L222.5,452.5 L223.6,448.6 L225.9,456.3 L227.6,456.6 L229.6,459.5 L231.0,454.7 L232.7,453.7 L234.4,448.2 L236.1,448.1 L237.8,445.2 L239.5,446.6 L241.2,442.3 L242.9,443.3 L244.6,434.9 L246.3,421.9 L247.9,403.8 L249.7,410.9 L251.4,419.1 L253.1,428.1 L254.8,427.9 L256.5,435.9 L258.2,436.7 L259.8,441.5 L261.6,435.3 L263.7,429.6 L265.0,429.9 L265.7,431.6 L266.7,424.4 L267.7,415.7 L268.4,416.4 L269.3,420.0 L270.1,416.0 L272.1,355.5 L273.5,365.3 L275.1,374.5 L276.7,369.6 L277.9,389.4 L278.6,387.5 L280.3,387.2 L282.0,379.8 L283.7,350.7 L284.4,331.6 L285.7,333.0 L287.6,317.7 L288.8,329.0 L290.5,342.5 L292.2,361.7 L292.8,370.0 L293.9,339.9 L295.9,303.8 L297.3,312.1 L299.2,340.8 L300.7,318.3 L302.4,298.5 L303.4,293.2 L304.1,308.4 L305.8,322.8 L307.5,329.0 L309.2,343.4 L310.3,362.0 L312.2,318.4 L314.4,338.2 L316.1,311.7 L317.7,332.9 L319.4,311.7 L321.5,265.5 L323.1,289.5 L324.5,279.2 L326.2,274.8 L327.3,274.7 L329.6,300.0 L331.3,310.5 L333.0,313.1 L334.7,317.2 L335.5,317.6 L336.4,315.9 L337.2,316.0 L338.1,328.4 L339.9,377.5 L341.5,353.4 L343.2,336.7 L344.9,334.2 L346.9,331.8 L348.3,342.9 L350.0,348.6 L350.8,353.7 L351.7,352.6 L353.8,343.7 L355.1,348.4 L356.8,350.4 L358.5,361.5 L360.2,362.3 L360.8,363.6 L362.1,312.0 L363.6,324.0 L365.3,336.7 L367.0,347.4 L368.7,363.3 L370.4,373.3 L372.1,385.1 L373.8,383.7 L375.5,390.5 L377.2,390.8 L379.2,393.3 L380.7,392.0 L382.3,406.6 L384.0,418.0 L385.7,411.2 L387.9,403.8 L389.1,411.2 L389.9,413.1 L390.8,409.8 L392.5,408.6 L394.2,404.9 L395.9,402.7 L397.6,397.2 L399.3,399.8 L401.0,404.3 L403.1,409.1 L404.4,405.5 L405.1,405.1 L406.1,409.7 L407.8,414.4 L409.5,407.9 L411.1,400.5 L412.9,407.9 L414.6,408.3 L416.3,414.0 L418.0,415.7 L419.7,425.4 L421.7,434.2 L423.1,434.1 L424.8,425.2 L426.5,419.3 L428.2,413.9 L429.9,417.2 L431.6,411.0 L432.2,411.7 L433.3,416.2 L435.0,419.6 L436.7,427.8 L438.2,430.0 L440.5,425.3 L441.8,431.0 L443.5,445.3 L445.2,455.7 L447.2,459.5 L448.6,455.7 L449.4,455.1 L450.3,460.9 L450.9,462.5 L452.4,449.1 L453.7,457.2 L454.6,459.5 L455.4,456.7 L457.1,449.9 L458.0,422.3 L458.8,426.5 L459.8,435.7 L460.5,435.3 L462.0,431.3 L463.9,442.4 L465.6,447.5 L466.5,452.1 L467.3,452.8 L469.0,447.7 L470.7,443.4 L472.4,431.2 L473.2,428.3 L474.1,430.7 L475.8,431.4 L477.5,443.1 L479.2,450.6 L480.9,445.7 L482.6,430.5 L484.6,379.7 L486.0,392.6 L487.9,406.1 L489.4,398.0 L490.0,395.4 L491.1,398.0 L492.8,398.4 L494.6,404.7 L496.2,402.7 L497.9,397.5 L498.7,392.0 L499.6,394.0 L501.0,401.2 L503.0,384.8 L505.0,375.2 L506.4,380.6 L507.9,410.5 L509.8,399.3 L511.5,393.4 L513.1,385.0 L514.9,400.0 L516.6,388.5 L518.3,384.3 L520.0,380.6 L521.7,382.3 L523.5,379.2 L525.1,386.3 L526.4,415.0 L528.7,394.3 L530.2,396.3 L531.9,412.3 L532.8,419.7 L533.6,412.2 L535.3,401.1 L537.4,396.6 L538.7,404.3 L540.9,415.0 L542.1,409.0 L543.8,357.8 L543.8,359.0" fill="none" stroke="#031a33" stroke-width="3.4" stroke-linejoin="round" stroke-linecap="round"/>
</svg></body></html>
